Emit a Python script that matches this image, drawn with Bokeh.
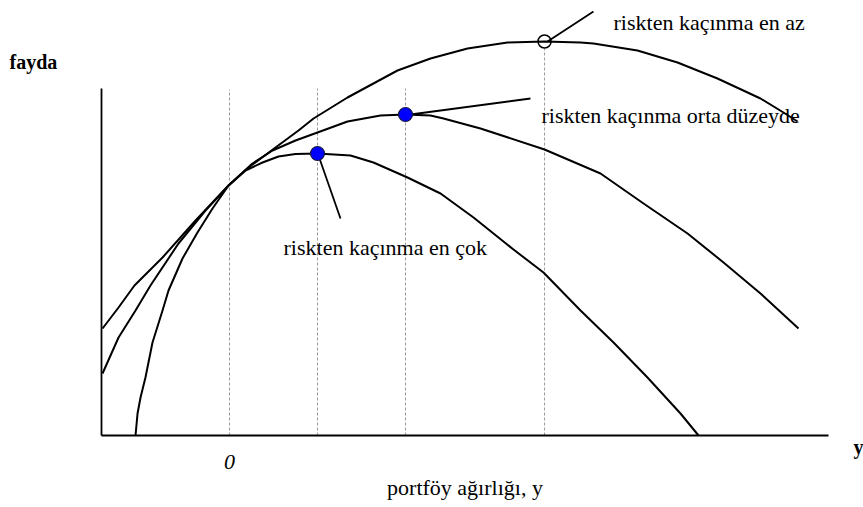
from bokeh.plotting import figure
from bokeh.models import Range1d, FixedTicker
from bokeh.embed import file_html
from bokeh.resources import INLINE
from bokeh.core.properties import value

# ---- data ----
# utility curve: most risk averse ("en çok")
most_x = [-1.068, -1.045, -1.011, -0.955, -0.875, -0.761, -0.693, -0.534, -0.364, -0.193,
          -0.011, 0.182, 0.375, 0.557, 0.75, 1.0, 1.375, 1.636, 2.023, 2.398, 2.773,
          3.227, 3.568, 3.989, 4.364, 4.75, 5.125, 5.33]
most_y = [0.0, 0.22, 0.38, 0.58, 0.93, 1.25, 1.45, 1.77, 2.03, 2.27,
          2.50, 2.65, 2.73, 2.79, 2.815, 2.82, 2.80, 2.73, 2.58, 2.42, 2.18,
          1.86, 1.63, 1.25, 0.93, 0.58, 0.22, 0.0]

# utility curve: medium risk aversion ("orta düzeyde")
mid_x = [-1.443, -1.261, -1.068, -0.898, -0.58, -0.273, -0.011, 0.261, 0.489, 0.75,
         1.0, 1.341, 1.716, 2.0, 2.284, 2.432, 2.852, 3.58, 4.216, 4.705, 5.205,
         5.614, 6.034, 6.466]
mid_y = [0.62, 0.98, 1.25, 1.50, 1.92, 2.25, 2.50, 2.72, 2.85, 2.95,
         3.03, 3.14, 3.20, 3.21, 3.20, 3.17, 3.07, 2.86, 2.62, 2.32, 2.02,
         1.73, 1.42, 1.07]

# utility curve: least risk averse ("en az")
least_x = [-1.443, -1.261, -1.08, -0.761, -0.386, -0.011, 0.216, 0.523, 0.784, 0.955,
           1.341, 1.909, 2.284, 2.705, 3.159, 3.58, 3.989, 4.136, 4.636, 5.091,
           5.545, 6.034, 6.295, 6.455]
least_y = [1.07, 1.28, 1.50, 1.78, 2.15, 2.50, 2.68, 2.88, 3.05, 3.17,
           3.38, 3.65, 3.77, 3.87, 3.93, 3.94, 3.93, 3.92, 3.85, 3.73,
           3.57, 3.37, 3.23, 3.14]

# optimum points (peaks)
peak_x = [1.0, 2.0, 3.58]
peak_y = [2.82, 3.21, 3.94]

# vertical guide lines
guide_x = [0.0, 1.0, 2.0, 3.58]
guide_top = [3.46, 3.47, 3.47, 3.87]

# pointer lines from peaks to labels
ptr_x0 = [1.011, 2.057, 3.614]
ptr_y0 = [2.80, 3.21, 3.94]
ptr_x1 = [1.261, 3.42, 4.136]
ptr_y1 = [2.17, 3.37, 4.24]

# labels
label_text = ["riskten kaçınma en çok", "riskten kaçınma orta düzeyde", "riskten kaçınma en az"]
label_x = [0.614, 3.545, 4.364]
label_y = [1.88, 3.20, 4.13]

axis_left = -1.455
axis_right = 6.807
axis_top = 3.47
x_ticks = [0]
x_title = "portföy ağırlığı, y"
y_title = "fayda"
x_end_label = "y"

FONT = "Liberation Serif"

p = figure(width=863, height=507, output_backend="svg", toolbar_location=None,
           x_range=Range1d(-2.6023, 7.2045), y_range=Range1d(-0.72, 4.35),
           min_border=0)
p.outline_line_color = None
p.grid.visible = False
p.background_fill_color = "white"
p.border_fill_color = "white"

# axes at fixed positions
xa = p.xaxis[0]
xa.fixed_location = 0
xa.bounds = (axis_left, axis_right)
xa.ticker = FixedTicker(ticks=x_ticks)
xa.major_tick_line_color = None
xa.minor_tick_line_color = None
xa.major_tick_out = 0
xa.major_tick_in = 0
xa.major_label_text_font = FONT
xa.major_label_text_font_style = "italic"
xa.major_label_text_font_size = "22px"
xa.major_label_text_color = "black"
xa.major_label_standoff = 19
xa.axis_label = x_title
xa.axis_label_text_font = FONT
xa.axis_label_text_font_style = "normal"
xa.axis_label_text_font_size = "22px"
xa.axis_label_text_color = "black"
xa.axis_label_standoff = 3
xa.axis_line_width = 1.8
xa.axis_line_color = "black"

ya = p.yaxis[0]
ya.fixed_location = axis_left
ya.bounds = (0, axis_top)
ya.ticker = FixedTicker(ticks=[])
ya.major_tick_line_color = None
ya.minor_tick_line_color = None
ya.major_label_text_font_size = "0px"
ya.axis_line_width = 1.8
ya.axis_line_color = "black"

# guides
p.segment(x0=guide_x, y0=[0] * len(guide_x), x1=guide_x, y1=guide_top,
          line_color="#9a9a9a", line_width=1, line_dash="3 2")

# curves
for cx, cy in [(most_x, most_y), (mid_x, mid_y), (least_x, least_y)]:
    p.line(cx, cy, line_color="black", line_width=2, line_join="round")

# pointers
p.segment(x0=ptr_x0, y0=ptr_y0, x1=ptr_x1, y1=ptr_y1, line_color="black", line_width=1.8)

# peak markers
p.scatter(peak_x[:2], peak_y[:2], size=14, marker="circle",
          fill_color="#0000ff", line_color="#1a1a40", line_width=1.2)
p.scatter(peak_x[2:], peak_y[2:], size=13, marker="circle",
          fill_color=None, line_color="black", line_width=1.5)

# texts
p.text(x=label_x, y=label_y, text=label_text, text_font=value(FONT),
       text_font_size="22px", text_color="black", text_align="left",
       text_baseline="alphabetic")
p.text(x=[-2.5], y=[3.74], text=[y_title], text_font=value(FONT),
       text_font_size="20px", text_font_style="bold", text_color="black",
       text_align="left", text_baseline="alphabetic")
p.text(x=[7.09], y=[-0.11], text=[x_end_label], text_font=value(FONT),
       text_font_size="20px", text_font_style="bold", text_color="black",
       text_align="left", text_baseline="alphabetic")

open("out.html", "w").write(file_html(p, INLINE))
